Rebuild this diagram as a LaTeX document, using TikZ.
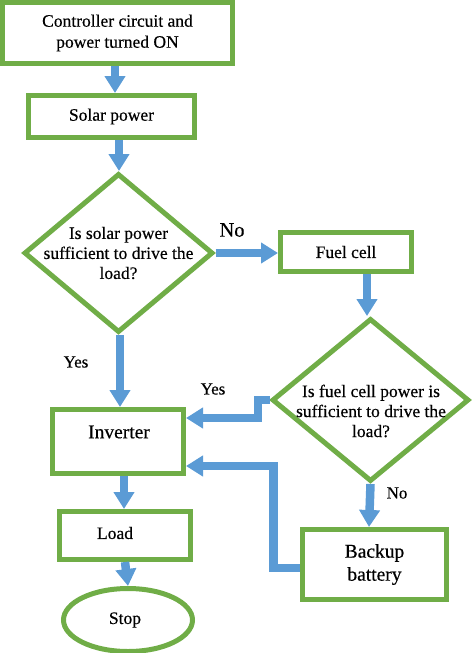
\documentclass[tikz,border=0pt]{standalone}
\usepackage{fontspec}
\setmainfont{Liberation Serif}[FakeBold=0.4]
\usetikzlibrary{shapes.geometric,arrows.meta}
\definecolor{gr}{HTML}{70AD47}
\definecolor{bl}{HTML}{5B9BD5}
\begin{document}
\begin{tikzpicture}[x=1pt,y=-1pt,
  box/.style={draw=gr, line width=5pt, rectangle, inner sep=0pt, align=center, font=\fontsize{17.5}{21}\selectfont},
  bigbox/.style={box, font=\fontsize{19.5}{23}\selectfont},
  dia/.style={draw=gr, line width=5pt, diamond, inner sep=0pt},
  oval/.style={draw=gr, line width=5pt, ellipse, inner sep=0pt, font=\fontsize{17.5}{21}\selectfont},
  txt/.style={align=center, inner sep=0pt, font=\fontsize{17.5}{20}\selectfont},
  lbl/.style={inner sep=0pt, font=\fontsize{17}{20}\selectfont},
  arr/.style={draw=bl, line width=8.5pt, line join=miter, -{Triangle[width=20pt,length=17pt]}}
]
\useasboundingbox (0,0) rectangle (474,653);

% nodes
\node[box, minimum width=230pt, minimum height=61pt] (start) at (117.5,33) {Controller circuit and\\power turned ON};
\node[box, minimum width=166pt, minimum height=42pt] (solar) at (111.5,116.5) {Solar power};
\node[dia, minimum width=189pt, minimum height=159pt] (d1) at (118.5,253) {};
\node[txt] (d1t) at (d1.center) {Is solar power\\sufficient to drive the\\load?};
\node[box, minimum width=131pt, minimum height=39pt] (fuel) at (346,252) {Fuel cell};
\node[dia, minimum width=197pt, minimum height=163pt] (d2) at (370.5,400) {};
\node[txt] (d2t) at (371,411) {Is fuel cell power is\\sufficient to drive the\\load?};
\node[bigbox, minimum width=131pt, minimum height=64pt] (inv) at (118,441.5) {};
\node[inner sep=0pt, font=\fontsize{19.5}{23}\selectfont] (invt) at (119,432) {Inverter};
\node[bigbox, minimum width=144pt, minimum height=70pt] (bat) at (374.5,564.5) {Backup\\battery};
\node[box, minimum width=131pt, minimum height=48pt] (load) at (125,535.5) {};
\node[inner sep=0pt, font=\fontsize{17.5}{21}\selectfont] (loadt) at (115,533) {Load};
\node[oval, minimum width=129pt, minimum height=63pt] (stop) at (128,620) {};
\node[inner sep=0pt, font=\fontsize{17.5}{21}\selectfont] (stopt) at (125,620) {Stop};

% labels
\node[lbl, font=\fontsize{20.5}{24}\selectfont] (no1) at (232,230) {No};
\node[lbl] (yes1) at (76,362) {Yes};
\node[lbl] (yes2) at (213,389) {Yes};
\node[lbl] (no2) at (397,493) {No};

% connectors
\draw[arr] ([xshift=-2.5pt]start.south) -- ([xshift=3.5pt]solar.north);
\draw[arr] ([xshift=7.5pt]solar.south) -- ([xshift=0.5pt]d1.north);
\draw[arr] (d1.east) -- (fuel.west |- d1.east);
\draw[arr] ([xshift=21pt]fuel.south) -- ([xshift=-3.5pt]d2.north);
\draw[arr] ([xshift=1.5pt]d1.south) -- ([xshift=2pt]inv.north);
\draw[arr] (d2.west) -- ++(-11.5,0) |- ([yshift=23.5pt]inv.east);
\draw[arr] (d2.south) -- ([xshift=-5.5pt]bat.north);
\draw[arr] ([yshift=-3.5pt]bat.west) -| ++(-26.5,-102) -- ([yshift=-24.5pt]inv.east);
\draw[arr] ([xshift=6pt]inv.south) -- ([xshift=-1pt]load.north);
\draw[arr] (load.south) -- (stop.north);
\end{tikzpicture}
\end{document}
